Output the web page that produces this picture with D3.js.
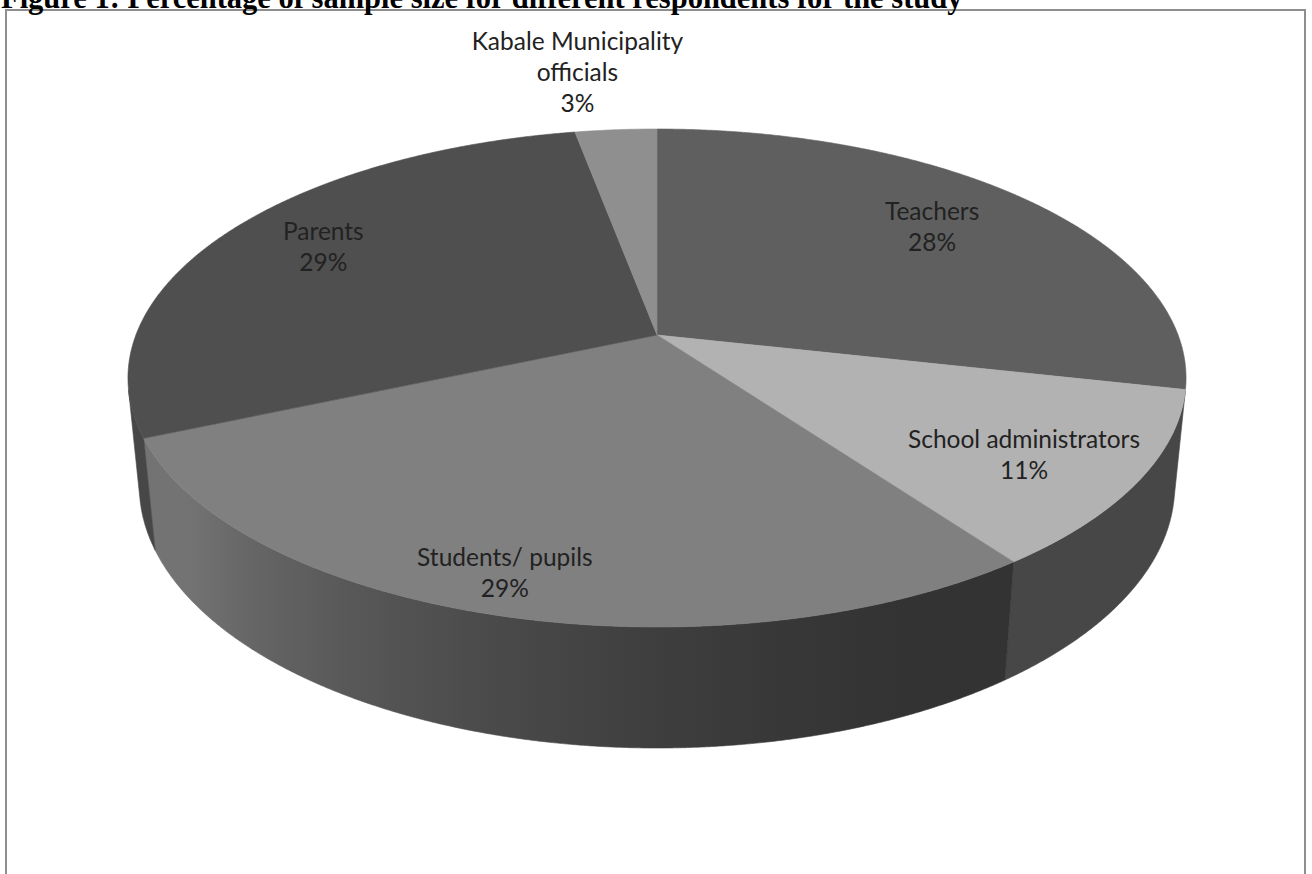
<!DOCTYPE html>
<html><head><meta charset="utf-8">
<script src="https://cdn.jsdelivr.net/npm/d3@7"></script>
<style>body{margin:0;background:#fff}svg{display:block}</style>
</head><body><svg id="c" width="1312" height="874"></svg>
<script>
// ---- data ----
const categories = ["Teachers", "School administrators", "Students/ pupils", "Parents", "Kabale Municipality officials"];
const values = [28.49, 11.49, 28.5, 28.57, 2.95];
const labelLines = [["Teachers"], ["School administrators"], ["Students/ pupils"], ["Parents"], ["Kabale Municipality", "officials"]];
const titleText = "Figure 1: Percentage of sample size for different respondents for the study";

// ---- style / layout ----
const topColors = ["#5f5f5f", "#b2b2b2", "#808080", "#4f4f4f", "#8f8f8f"];
const labelRadius = [0.73, 0.78, 0.88, 0.77, 1.31];
const labelShift = [[0, -7], [0, 7], [-11, -3], [0, -7], [-28, -6]];

const svg = d3.select("#c");
const defs = svg.append("defs");

// frame
svg.append("rect").attr("x", 6).attr("y", 10).attr("width", 1299).attr("height", 880)
  .attr("fill", "#fff").attr("stroke", "#8e8e8e").attr("stroke-width", 2);

// title (partially cut at top, as in the source)
svg.append("text").attr("x", 1).attr("y", 8)
  .attr("font-family", "Liberation Serif, Times New Roman, serif")
  .attr("font-weight", "bold").attr("font-size", 30.5).attr("fill", "#000")
  .text(titleText);

// ---- 3D perspective projection of a disc ----
const view = { cx: 657, cy: 335, f: 2673.7, d: 5.1309, sa: 0.46358, h: 0.2359 };
view.ca = Math.sqrt(1 - view.sa * view.sa);
const rScale = d3.scaleLinear().domain([0, 1]).range([0, 1]);
function proj(phi, r, y) {
  const rr = rScale(r);
  const x = rr * Math.sin(phi), z = -rr * Math.cos(phi);
  const depth = view.d - y * view.sa - z * view.ca;
  return [view.cx + view.f * x / depth, view.cy + view.f * (-y * view.ca + z * view.sa) / depth];
}

const pie = d3.pie().sort(null).value(d => d)(values);
const step = Math.PI / 720;

// visible range of the side wall
const zVis = 1 / (view.d * view.ca);
const visA = Math.PI - Math.acos(zVis);
const visB = Math.PI + Math.acos(zVis);

function shade(hex, k) {
  const c = d3.rgb(hex);
  return d3.rgb(c.r * k, c.g * k, c.b * k).formatHex();
}
function lightFactor(phi) {
  const deg = phi * 180 / Math.PI;
  const t = Math.max(0, Math.min(1, (deg - 155) / 80));
  return 0.4 + 0.5 * Math.pow(t, 1.5);
}

// side walls with horizontal shading gradients
const sideG = svg.append("g");
pie.forEach((s, i) => {
  const a0 = Math.max(s.startAngle, visA), a1 = Math.min(s.endAngle, visB);
  if (a1 <= a0) return;
  const n = Math.max(2, Math.ceil((a1 - a0) / step));
  const topPts = [], botPts = [];
  for (let j = 0; j <= n; j++) {
    const p = a0 + (a1 - a0) * j / n;
    topPts.push(proj(p, 1, 0));
    botPts.push(proj(p, 1, -view.h));
  }
  const pts = topPts.concat(botPts.slice().reverse());
  const xs = pts.map(p => p[0]);
  const xmin = d3.min(xs), xmax = d3.max(xs);
  const gid = "side" + i;
  const grad = defs.append("linearGradient").attr("id", gid)
    .attr("gradientUnits", "userSpaceOnUse")
    .attr("x1", xmin).attr("x2", xmax).attr("y1", 0).attr("y2", 0);
  const stops = [];
  const m = 40;
  for (let k = 0; k <= m; k++) {
    const p = a0 + (a1 - a0) * k / m;
    const xm = (proj(p, 1, 0)[0] + proj(p, 1, -view.h)[0]) / 2;
    const off = Math.max(0, Math.min(1, (xm - xmin) / Math.max(1e-6, xmax - xmin)));
    stops.push([off, shade(topColors[i], lightFactor(p))]);
  }
  stops.sort((a, b) => a[0] - b[0]);
  stops.forEach(st => grad.append("stop").attr("offset", st[0]).attr("stop-color", st[1]));
  sideG.append("path").attr("d", d3.line()(pts) + "Z")
    .attr("fill", `url(#${gid})`).attr("stroke", `url(#${gid})`).attr("stroke-width", 0.6);
});

// top faces
const topG = svg.append("g");
pie.forEach((s, i) => {
  const pts = [proj(0, 0, 0)];
  const n = Math.max(2, Math.ceil((s.endAngle - s.startAngle) / step));
  for (let j = 0; j <= n; j++) pts.push(proj(s.startAngle + (s.endAngle - s.startAngle) * j / n, 1, 0));
  topG.append("path").attr("d", d3.line()(pts) + "Z")
    .attr("fill", topColors[i]).attr("stroke", topColors[i]).attr("stroke-width", 0.6)
    .attr("stroke-linejoin", "round");
});

// labels
const lblG = svg.append("g").attr("font-family", "Lato, Open Sans, sans-serif")
  .attr("font-size", 24.5).attr("fill", "#222").attr("text-anchor", "middle");
pie.forEach((s, i) => {
  const mid = (s.startAngle + s.endAngle) / 2;
  const [x, y] = proj(mid, labelRadius[i], 0);
  const lines = labelLines[i].concat([Math.round(values[i]) + "%"]);
  const lh = 31;
  lines.forEach((t, k) => {
    lblG.append("text").attr("x", x + labelShift[i][0])
      .attr("y", y + labelShift[i][1] + (k - (lines.length - 1) / 2) * lh)
      .attr("dominant-baseline", "central").text(t);
  });
});
</script>
</body></html>
